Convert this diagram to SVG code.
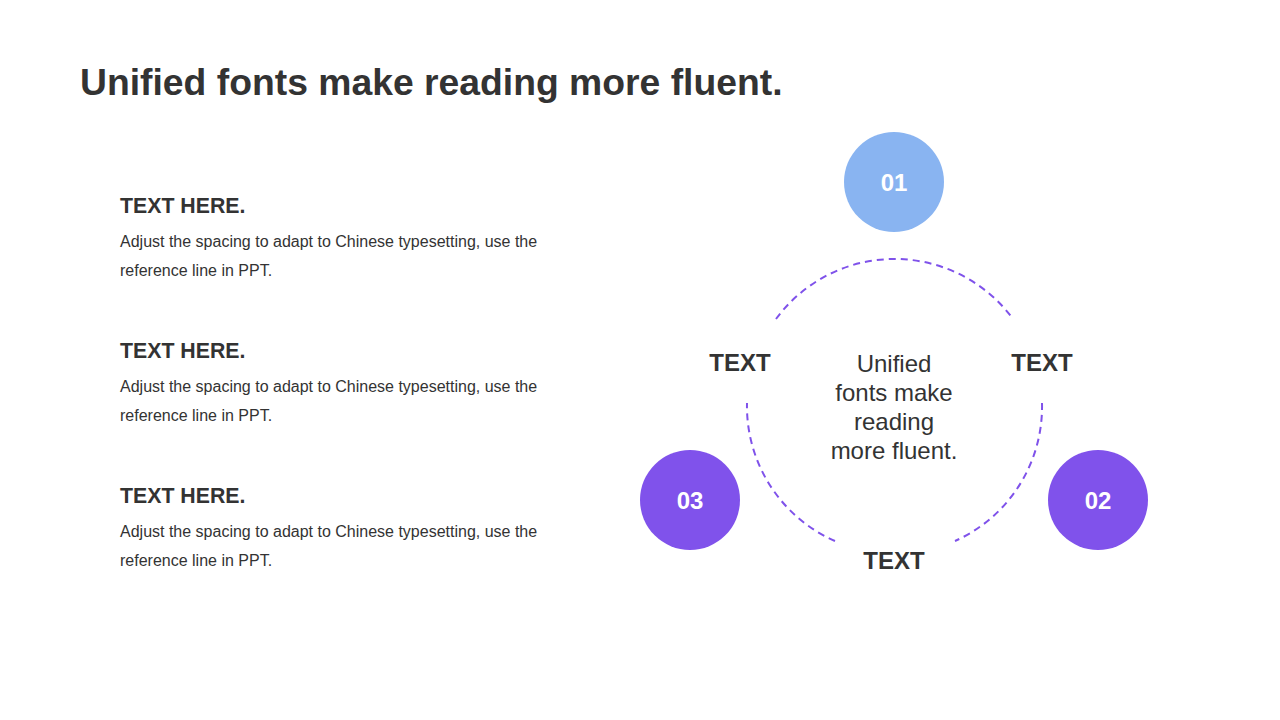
<svg xmlns="http://www.w3.org/2000/svg" width="1280" height="720" viewBox="0 0 1280 720">
<style>
text{font-family:"Liberation Sans",Arial,sans-serif;fill:#333}
.title{font-size:37.3px;font-weight:bold}
.h{font-size:21.3px;font-weight:bold}
.b{font-size:16px}
.lbl{font-size:24px;font-weight:bold;text-anchor:middle}
.ctr{font-size:24px;text-anchor:middle}
.num{font-size:24px;font-weight:bold;fill:#fff;text-anchor:middle}
.arc{fill:none;stroke:#7F52EA;stroke-width:2;stroke-dasharray:7 5}
</style>
<rect width="1280" height="720" fill="#fff"/>
<text class="title" x="80" y="95">Unified fonts make reading more fluent.</text>
<g id="block1">
<text class="h" x="120" y="213">TEXT HERE.</text>
<text class="b" x="120" y="247">Adjust the spacing to adapt to Chinese typesetting, use the</text>
<text class="b" x="120" y="276">reference line in PPT.</text>
</g>
<g id="block2">
<text class="h" x="120" y="358">TEXT HERE.</text>
<text class="b" x="120" y="392">Adjust the spacing to adapt to Chinese typesetting, use the</text>
<text class="b" x="120" y="421">reference line in PPT.</text>
</g>
<g id="block3">
<text class="h" x="120" y="503">TEXT HERE.</text>
<text class="b" x="120" y="537">Adjust the spacing to adapt to Chinese typesetting, use the</text>
<text class="b" x="120" y="566">reference line in PPT.</text>
</g>
<g id="connectors">
<path class="arc" d="M776,319 A147,147 0 0 1 1013,319"/>
<path class="arc" d="M1042,403 A147,147 0 0 1 955,541"/>
<path class="arc" d="M835,541 A147,147 0 0 1 747,403"/>
</g>
<g id="center">
<text class="ctr" x="894" y="372">Unified</text>
<text class="ctr" x="894" y="401">fonts make</text>
<text class="ctr" x="894" y="430">reading</text>
<text class="ctr" x="894" y="459">more fluent.</text>
</g>
<g id="label-left"><text class="lbl" x="740" y="371">TEXT</text></g>
<g id="label-right"><text class="lbl" x="1042" y="371">TEXT</text></g>
<g id="label-bottom"><text class="lbl" x="894" y="569">TEXT</text></g>
<g id="node01"><circle cx="894" cy="182" r="50" fill="#89B4F1"/><text class="num" x="894" y="191">01</text></g>
<g id="node02"><circle cx="1098" cy="500" r="50" fill="#8052EB"/><text class="num" x="1098" y="509">02</text></g>
<g id="node03"><circle cx="690" cy="500" r="50" fill="#8052EB"/><text class="num" x="690" y="509">03</text></g>
</svg>
